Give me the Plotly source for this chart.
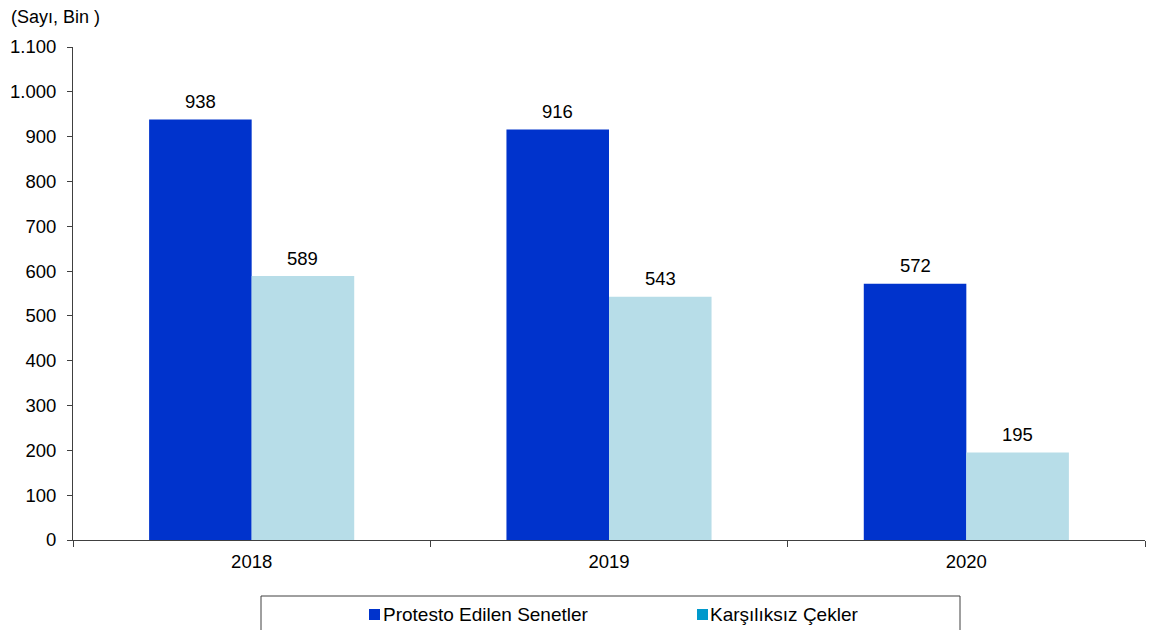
import plotly.graph_objects as go

years = ["2018", "2019", "2020"]
senetler = [938, 916, 572]
cekler = [589, 543, 195]
series_names = ["Protesto Edilen Senetler", "Karşılıksız Çekler"]
y_ticks = [0, 100, 200, 300, 400, 500, 600, 700, 800, 900, 1000, 1100]

BLUE = "#0033CC"
LIGHT = "#B7DDE8"
LEG2 = "#0099CC"
FONT = "Liberation Sans, Arial, sans-serif"
FS = 18.5

# page offset (browser body margin)
O = 8
W, H = 1156 - O, 630 - O
# plot area in page pixels
L, R, T, B = 73, 1145, 47, 540
pw, ph = R - L, B - T

def px(x):
    return (x - L) / pw

def py(y):
    return (B - y) / ph

bargap = 0.426
bw = (1 - bargap) / 2

fig = go.Figure()
fig.add_trace(go.Bar(x=years, y=senetler, name=series_names[0],
                     marker=dict(color=BLUE, line=dict(width=0)), showlegend=False))
fig.add_trace(go.Bar(x=years, y=cekler, name=series_names[1],
                     marker=dict(color=LIGHT, line=dict(width=0)), showlegend=False))

annotations = []
for i, (a, b) in enumerate(zip(senetler, cekler)):
    for off, v in ((-bw / 2, a), (bw / 2, b)):
        annotations.append(dict(
            x=i + off, y=v, xref="x", yref="y", text=f"{v:,}".replace(",", "."),
            showarrow=False, yanchor="middle", yshift=18,
            font=dict(family=FONT, size=FS, color="#000000")))

annotations.append(dict(x=px(9), y=py(17), xref="paper", yref="paper",
                        text="(Sayı, Bin )", showarrow=False, xanchor="left",
                        yanchor="middle", font=dict(family=FONT, size=18, color="#000000")))

# legend texts
annotations.append(dict(x=px(381), y=py(614), xref="paper", yref="paper",
                        text=series_names[0], showarrow=False, xanchor="left",
                        yanchor="middle", font=dict(family=FONT, size=19, color="#000000")))
annotations.append(dict(x=px(708), y=py(614), xref="paper", yref="paper",
                        text=series_names[1], showarrow=False, xanchor="left",
                        yanchor="middle", font=dict(family=FONT, size=19, color="#000000")))

shapes = [
    dict(type="rect", xref="paper", yref="paper", x0=px(261), x1=px(960),
         y0=py(640), y1=py(596), line=dict(color="#404040", width=1), fillcolor="rgba(0,0,0,0)"),
    dict(type="rect", xref="paper", yref="paper", x0=px(369), x1=px(380),
         y0=py(620), y1=py(609), line=dict(width=0), fillcolor=BLUE),
    dict(type="rect", xref="paper", yref="paper", x0=px(697), x1=px(708),
         y0=py(620), y1=py(609), line=dict(width=0), fillcolor=LEG2),
]

fig.update_layout(
    width=W, height=H,
    margin=dict(l=L - O, r=W - (R - O), t=T - O, b=H - (B - O), pad=0, autoexpand=False),
    paper_bgcolor="white", plot_bgcolor="white",
    barmode="group", bargap=bargap, bargroupgap=0,
    separators=",.",
    font=dict(family=FONT, size=FS, color="#000000"),
    annotations=annotations, shapes=shapes,
    showlegend=False,
)
fig.update_xaxes(type="category", showline=True, linecolor="#404040", linewidth=1,
                 ticks="outside", tickson="boundaries", ticklen=6, tickcolor="#404040",
                 showgrid=False, zeroline=False, automargin=False, ticklabelstandoff=5,
                 tickfont=dict(family=FONT, size=FS, color="#000000"))
fig.update_yaxes(range=[0, 1100], tickvals=y_ticks, showline=True, linecolor="#404040",
                 linewidth=1, ticks="outside", ticklen=5, tickcolor="#404040",
                 showgrid=False, zeroline=False, tickformat=",d", ticklabelstandoff=7,
                 automargin=False,
                 tickfont=dict(family=FONT, size=FS, color="#000000"))

fig.write_html("out.html")
